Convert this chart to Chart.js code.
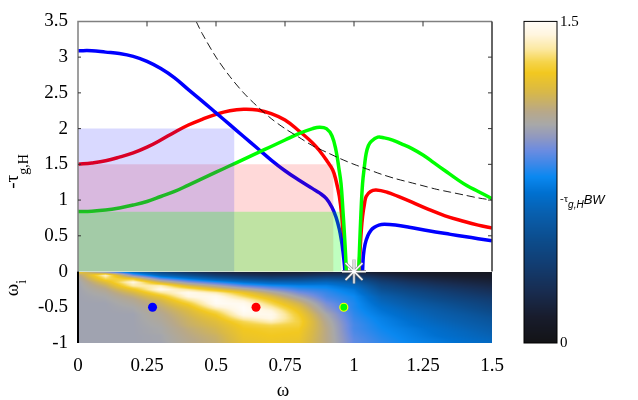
<!DOCTYPE html>
<html>
<head>
<meta charset="utf-8">
<script src="https://cdn.jsdelivr.net/npm/chart.js@4.4.1/dist/chart.umd.min.js"></script>
<style>
  html, body { margin: 0; padding: 0; background: #fff; }
</style>
</head>
<body>
<canvas id="chart" width="638" height="400"></canvas>
<script>
// upper panel: -tau_g,H against omega (null = gap at the resonance)
const blueOmega = [0, 0.05, 0.1, 0.15, 0.2, 0.25, 0.3, 0.35, 0.4, 0.45, 0.5, 0.55, 0.6, 0.65, 0.7, 0.75, 0.8, 0.85, 0.875, 0.9, 0.92, 0.935, 0.947, 0.955, 0.96, 0.965, 0.967, 1.0, 1.031, 1.034, 1.04, 1.05, 1.062, 1.074, 1.09, 1.11, 1.15, 1.2, 1.27, 1.35, 1.4, 1.45, 1.5];
const blueTau = [3.09, 3.09, 3.07, 3.05, 3.01, 2.94, 2.84, 2.71, 2.545, 2.385, 2.22, 2.055, 1.89, 1.725, 1.56, 1.41, 1.28, 1.16, 1.10, 1.02, 0.90, 0.76, 0.59, 0.42, 0.28, 0.1, 0, null, 0, 0.22, 0.38, 0.50, 0.58, 0.62, 0.65, 0.66, 0.65, 0.62, 0.57, 0.52, 0.49, 0.46, 0.43];

const redOmega = [0, 0.05, 0.1, 0.15, 0.2, 0.25, 0.3, 0.35, 0.4, 0.45, 0.5, 0.55, 0.6, 0.65, 0.7, 0.75, 0.8, 0.85, 0.875, 0.9, 0.923, 0.935, 0.947, 0.955, 0.962, 0.968, 0.97, 1.0, 1.018, 1.022, 1.026, 1.031, 1.038, 1.044, 1.06, 1.08, 1.12, 1.16, 1.21, 1.27, 1.33, 1.4, 1.45, 1.5];
const redTau = [1.50, 1.52, 1.55, 1.60, 1.66, 1.74, 1.84, 1.95, 2.05, 2.13, 2.20, 2.25, 2.27, 2.26, 2.21, 2.12, 1.97, 1.80, 1.69, 1.56, 1.42, 1.27, 1.05, 0.80, 0.45, 0.1, 0, null, 0, 0.3, 0.55, 0.77, 0.95, 1.05, 1.12, 1.14, 1.11, 1.05, 0.97, 0.87, 0.78, 0.70, 0.65, 0.61];

const greenOmega = [0, 0.05, 0.1, 0.15, 0.2, 0.25, 0.3, 0.35, 0.4, 0.45, 0.5, 0.55, 0.6, 0.65, 0.7, 0.75, 0.8, 0.85, 0.875, 0.9, 0.92, 0.935, 0.945, 0.953, 0.96, 0.965, 0.97, 0.972, 1.0, 1.017, 1.02, 1.025, 1.031, 1.038, 1.044, 1.052, 1.062, 1.086, 1.11, 1.14, 1.17, 1.21, 1.25, 1.29, 1.33, 1.37, 1.41, 1.45, 1.5];
const greenTau = [0.84, 0.845, 0.86, 0.89, 0.93, 0.98, 1.05, 1.12, 1.21, 1.30, 1.39, 1.48, 1.57, 1.66, 1.75, 1.84, 1.93, 2.0, 2.02, 2.0, 1.9, 1.69, 1.45, 1.23, 0.85, 0.54, 0.2, 0, null, 0, 0.32, 0.8, 1.23, 1.48, 1.65, 1.76, 1.82, 1.88, 1.87, 1.84, 1.79, 1.72, 1.63, 1.52, 1.41, 1.30, 1.20, 1.12, 1.02];

const dashOmega = [0.428, 0.45, 0.5, 0.55, 0.6, 0.65, 0.7, 0.75, 0.8, 0.85, 0.9, 0.95, 1.0, 1.05, 1.1, 1.15, 1.2, 1.25, 1.3, 1.35, 1.4, 1.45, 1.5];
const dashTau = [3.5, 3.33, 3.0, 2.73, 2.5, 2.31, 2.14, 2.0, 1.88, 1.76, 1.67, 1.58, 1.5, 1.43, 1.36, 1.3, 1.25, 1.2, 1.15, 1.11, 1.07, 1.03, 1.0];

// shaded boxes: [red, blue, green]
const boxRight = [0.926, 0.567, 0.955];
const boxTop = [1.5, 2.0, 0.835];

// lower panel markers
const dotOmega = [0.27, 0.645, 0.963];
const dotOmegaI = [-0.5, -0.5, -0.5];
const starOmega = [1.0];
const starOmegaI = [0];

// lower panel map: -tau_g,H*BW on a grid (columns = omega, rows = omega_i)
const heatOmega = [0, 0.1, 0.2, 0.3, 0.4, 0.5, 0.6, 0.7, 0.8, 0.9, 1.0, 1.1, 1.2, 1.3, 1.4, 1.5];
const heatOmegaI = [0, -0.05, -0.1, -0.15, -0.2, -0.25, -0.3, -0.35, -0.4, -0.45, -0.5, -0.55, -0.6, -0.65, -0.7, -0.75, -0.8, -0.85, -0.9, -0.95, -1];
const heatCols = [
  [1.30, 1.06, 1.02, 1.0, 1.0, 1.0, 1.0, 1.0, 1.0, 1.0, 1.0, 1.0, 1.0, 1.0, 1.0, 1.0, 1.0, 1.0, 1.0, 1.0, 1.0],
  [0.85, 1.42, 1.32, 1.2, 1.12, 1.07, 1.04, 1.02, 1.01, 1.0, 1.0, 1.0, 1.0, 1.0, 1.0, 1.0, 1.0, 1.0, 1.0, 1.0, 1.0],
  [0.62, 0.9, 1.25, 1.45, 1.38, 1.25, 1.16, 1.1, 1.06, 1.04, 1.02, 1.01, 1.0, 1.0, 1.0, 1.0, 1.0, 1.0, 1.0, 1.0, 1.0],
  [0.4, 0.62, 0.88, 1.15, 1.4, 1.47, 1.35, 1.24, 1.17, 1.13, 1.1, 1.08, 1.06, 1.05, 1.04, 1.03, 1.02, 1.02, 1.01, 1.01, 1.0],
  [0.25, 0.48, 0.72, 0.95, 1.18, 1.36, 1.48, 1.45, 1.36, 1.28, 1.22, 1.18, 1.16, 1.14, 1.13, 1.12, 1.1, 1.09, 1.08, 1.07, 1.07],
  [0.18, 0.35, 0.58, 0.82, 1.03, 1.22, 1.4, 1.48, 1.5, 1.49, 1.42, 1.33, 1.27, 1.23, 1.2, 1.18, 1.16, 1.15, 1.13, 1.12, 1.11],
  [0.14, 0.28, 0.48, 0.7, 0.88, 1.08, 1.25, 1.33, 1.42, 1.48, 1.5, 1.5, 1.47, 1.4, 1.32, 1.28, 1.26, 1.25, 1.24, 1.23, 1.22],
  [0.12, 0.24, 0.42, 0.63, 0.8, 0.94, 1.08, 1.18, 1.26, 1.32, 1.38, 1.44, 1.47, 1.46, 1.4, 1.32, 1.28, 1.27, 1.26, 1.25, 1.25],
  [0.12, 0.25, 0.44, 0.62, 0.76, 0.84, 0.92, 1.0, 1.08, 1.15, 1.2, 1.24, 1.27, 1.29, 1.3, 1.29, 1.27, 1.26, 1.25, 1.24, 1.23],
  [0.15, 0.3, 0.5, 0.65, 0.75, 0.8, 0.83, 0.85, 0.88, 0.92, 0.95, 0.98, 1.02, 1.04, 1.06, 1.07, 1.08, 1.08, 1.08, 1.08, 1.08],
  [0.15, 0.3, 0.45, 0.58, 0.66, 0.72, 0.75, 0.78, 0.79, 0.8, 0.8, 0.81, 0.82, 0.83, 0.84, 0.85, 0.85, 0.86, 0.87, 0.88, 0.88],
  [0.1, 0.2, 0.3, 0.38, 0.45, 0.5, 0.55, 0.6, 0.63, 0.66, 0.69, 0.71, 0.73, 0.75, 0.76, 0.77, 0.78, 0.79, 0.8, 0.81, 0.82],
  [0.08, 0.15, 0.22, 0.3, 0.36, 0.42, 0.47, 0.51, 0.55, 0.58, 0.61, 0.64, 0.66, 0.68, 0.7, 0.71, 0.73, 0.74, 0.75, 0.76, 0.77],
  [0.06, 0.12, 0.18, 0.24, 0.3, 0.35, 0.4, 0.44, 0.48, 0.52, 0.55, 0.58, 0.6, 0.62, 0.64, 0.66, 0.68, 0.69, 0.7, 0.72, 0.73],
  [0.05, 0.1, 0.15, 0.2, 0.25, 0.3, 0.34, 0.38, 0.42, 0.46, 0.49, 0.52, 0.55, 0.57, 0.59, 0.61, 0.63, 0.65, 0.66, 0.68, 0.69],
  [0.05, 0.09, 0.13, 0.17, 0.21, 0.25, 0.29, 0.33, 0.37, 0.4, 0.43, 0.46, 0.49, 0.52, 0.54, 0.56, 0.58, 0.6, 0.62, 0.64, 0.66]
];

// colour map 0 .. 1.5
const cmapStops = [0, 0.12, 0.24, 0.36, 0.48, 0.61, 0.70, 0.775, 0.84, 0.90, 0.96, 1.02, 1.08, 1.17, 1.26, 1.31, 1.37, 1.44, 1.5];
const cmapColors = ['#131316', '#181c2c', '#182c50', '#123c70', '#0c4c8c', '#0860b0', '#0070d0', '#0a88f0', '#4088e8', '#6c8ce0', '#9098c0', '#a8a8a8', '#b8a888', '#d8b848', '#f2c820', '#f5d44a', '#fce8a0', '#fff6e0', '#fffcf8'];

const SERIF = "'Liberation Serif', 'Times New Roman', serif";
const SANS = "'Liberation Sans', Arial, sans-serif";

const pts = (xs, ys) => xs.map((x, i) => ({ x: x, y: ys[i] }));
const cmapRgb = cmapColors.map(h => [1, 3, 5].map(k => parseInt(h.substr(k, 2), 16)));

function colorFor(v) {
  const n = cmapStops.length;
  if (v <= cmapStops[0]) return cmapRgb[0];
  if (v >= cmapStops[n - 1]) return cmapRgb[n - 1];
  let i = 0;
  while (v > cmapStops[i + 1]) i++;
  const t = (v - cmapStops[i]) / (cmapStops[i + 1] - cmapStops[i]);
  return cmapRgb[i].map((c, k) => c + (cmapRgb[i + 1][k] - c) * t);
}

// smooth shading between the grid values
function heatValue(w, wi) {
  const nC = heatOmega.length, nR = heatOmegaI.length;
  let fc = (w - heatOmega[0]) / (heatOmega[1] - heatOmega[0]);
  let fr = (heatOmegaI[0] - wi) / (heatOmegaI[0] - heatOmegaI[1]);
  fc = Math.max(0, Math.min(nC - 1, fc));
  fr = Math.max(0, Math.min(nR - 1, fr));
  const c0 = Math.min(Math.floor(fc), nC - 2), r0 = Math.min(Math.floor(fr), nR - 2);
  const tc = fc - c0, tr = fr - r0;
  const a = heatCols[c0][r0], b = heatCols[c0 + 1][r0];
  const c = heatCols[c0][r0 + 1], d = heatCols[c0 + 1][r0 + 1];
  return a * (1 - tc) * (1 - tr) + b * tc * (1 - tr) + c * (1 - tc) * tr + d * tc * tr;
}

function drawHeatmap(chart) {
  const xs = chart.scales.x, ys = chart.scales.y, ctx = chart.ctx;
  const left = Math.round(xs.getPixelForValue(heatOmega[0]));
  const right = Math.round(xs.getPixelForValue(heatOmega[heatOmega.length - 1]));
  const top = Math.round(ys.getPixelForValue(heatOmegaI[0]));
  const bottom = Math.round(ys.getPixelForValue(heatOmegaI[heatOmegaI.length - 1]));
  const w = right - left, h = bottom - top;
  const off = document.createElement('canvas');
  off.width = w; off.height = h;
  const octx = off.getContext('2d');
  const img = octx.createImageData(w, h);
  for (let j = 0; j < h; j++) {
    const wi = ys.getValueForPixel(top + j + 0.5);
    for (let i = 0; i < w; i++) {
      const col = colorFor(heatValue(xs.getValueForPixel(left + i + 0.5), wi));
      const p = (j * w + i) * 4;
      img.data[p] = col[0]; img.data[p + 1] = col[1]; img.data[p + 2] = col[2]; img.data[p + 3] = 255;
    }
  }
  octx.putImageData(img, 0, 0);
  ctx.drawImage(off, left, top);
}

function drawFrame(chart) {
  const xs = chart.scales.x, ys = chart.scales.y, ctx = chart.ctx, a = chart.chartArea;
  const y0 = ys.getPixelForValue(0);
  ctx.save();
  ctx.lineWidth = 1.5;
  ctx.strokeStyle = '#808080';
  ctx.beginPath();
  ctx.moveTo(a.left, y0); ctx.lineTo(a.left, a.top); ctx.lineTo(a.right, a.top);
  ctx.stroke();
  ctx.strokeStyle = '#333';
  ctx.beginPath();
  ctx.moveTo(a.right, a.top); ctx.lineTo(a.right, y0);
  ctx.stroke();
  ctx.strokeStyle = '#000';
  ctx.lineWidth = 2;
  ctx.beginPath();
  ctx.moveTo(a.left, y0); ctx.lineTo(a.left, a.bottom);
  ctx.stroke();
  // inward ticks
  ctx.lineWidth = 1;
  ctx.strokeStyle = '#333';
  ctx.beginPath();
  xs.ticks.forEach(t => {
    if (t.value <= xs.min || t.value >= xs.max) return;
    const x = xs.getPixelForValue(t.value);
    ctx.moveTo(x, a.top); ctx.lineTo(x, a.top + 5);
  });
  ys.ticks.forEach(t => {
    if (t.value <= 0 || t.value >= ys.max) return;
    const y = ys.getPixelForValue(t.value);
    ctx.moveTo(a.left, y); ctx.lineTo(a.left + 3, y);
    ctx.moveTo(a.right, y); ctx.lineTo(a.right - 4, y);
  });
  ctx.stroke();
  ctx.restore();
}

function drawParts(ctx, x, y, parts) {
  parts.forEach(p => {
    ctx.font = p.font;
    ctx.fillText(p.text, x, y + (p.dy || 0));
    x += ctx.measureText(p.text).width;
  });
}

function drawRotated(ctx, cx, cy, parts) {
  ctx.save();
  ctx.translate(cx, cy);
  ctx.rotate(-Math.PI / 2);
  let total = 0;
  parts.forEach(p => { ctx.font = p.font; total += ctx.measureText(p.text).width; });
  drawParts(ctx, -total / 2, 0, parts);
  ctx.restore();
}

function drawColorbar(chart) {
  const ctx = chart.ctx, a = chart.chartArea;
  const x0 = a.right + 32, x1 = a.right + 65;
  const top = a.top, bottom = a.bottom;
  const vmin = cmapStops[0], vmax = cmapStops[cmapStops.length - 1];
  ctx.save();
  for (let y = Math.floor(top); y < bottom; y++) {
    const v = vmax - (y + 0.5 - top) / (bottom - top) * (vmax - vmin);
    const c = colorFor(v);
    ctx.fillStyle = 'rgb(' + c.map(Math.round).join(',') + ')';
    ctx.fillRect(x0, y, x1 - x0, 1);
  }
  ctx.strokeStyle = '#000';
  ctx.lineWidth = 1;
  ctx.strokeRect(x0, top, x1 - x0, bottom - top);
  ctx.fillStyle = '#000';
  ctx.textAlign = 'left';
  ctx.textBaseline = 'middle';
  ctx.font = '15px ' + SERIF;
  ctx.fillText(String(vmax), x1 + 3, top + 1);
  ctx.fillText(String(vmin), x1 + 3, bottom);
  ctx.textBaseline = 'alphabetic';
  const mid = (top + bottom) / 2 + 20;
  drawParts(ctx, x1 + 3, mid, [
    { text: '-τ', font: '11px ' + SERIF },
    { text: 'g,H', font: 'italic 10px ' + SANS, dy: 6 },
    { text: 'BW', font: 'italic 13px ' + SANS, dy: 2 }
  ]);
  ctx.restore();
}

function drawTitles(chart) {
  const xs = chart.scales.x, ys = chart.scales.y, ctx = chart.ctx, a = chart.chartArea;
  ctx.save();
  ctx.fillStyle = '#000';
  ctx.textAlign = 'left';
  ctx.textBaseline = 'alphabetic';
  drawRotated(ctx, a.left - 60, ys.getPixelForValue(1.4), [
    { text: '-τ', font: '19px ' + SERIF },
    { text: 'g,H', font: '14px ' + SERIF, dy: 10 }
  ]);
  drawRotated(ctx, a.left - 60, ys.getPixelForValue(-0.23), [
    { text: 'ω', font: '19px ' + SERIF },
    { text: 'i', font: '14px ' + SERIF, dy: 8 }
  ]);
  ctx.textAlign = 'center';
  ctx.font = '19px ' + SERIF;
  ctx.fillText('ω', xs.getPixelForValue(0.75) - 2, a.bottom + 53);
  ctx.restore();
}

const panelPlugin = {
  id: 'panels',
  beforeDatasetsDraw(chart) { drawHeatmap(chart); },
  afterDatasetsDraw(chart) { drawFrame(chart); },
  afterDraw(chart) { drawColorbar(chart); drawTitles(chart); }
};

const curve = (label, xs, ys, color, order) => ({
  label: label, data: pts(xs, ys), borderColor: color, borderWidth: 3.5,
  pointRadius: 0, tension: 0.4, spanGaps: false, fill: false, order: order
});
const box = (i, color, order) => ({
  data: pts([0, boxRight[i]], [boxTop[i], boxTop[i]]), borderWidth: 0, pointRadius: 0,
  backgroundColor: color, fill: { value: 0 }, order: order
});

new Chart(document.getElementById('chart').getContext('2d'), {
  type: 'line',
  data: {
    datasets: [
      curve('red', redOmega, redTau, '#ff0000', 8),
      curve('blue', blueOmega, blueTau, '#0000ff', 7),
      curve('green', greenOmega, greenTau, '#00ff00', 6),
      {
        data: pts(dashOmega, dashTau), borderColor: '#000', borderWidth: 0.9, borderDash: [8, 4],
        pointRadius: 0, tension: 0.3, fill: false, order: 5
      },
      box(0, 'rgba(255,0,0,0.15)', 4),
      box(1, 'rgba(0,0,255,0.15)', 3),
      box(2, 'rgba(0,255,0,0.25)', 2),
      {
        data: pts(dotOmega, dotOmegaI), showLine: false, pointStyle: 'circle',
        pointRadius: [4.5, 4.5, 4], pointBorderWidth: [0, 0, 1.2],
        pointBackgroundColor: ['#0000ff', '#ff0000', '#00ff00'],
        pointBorderColor: ['#0000ff', '#ff0000', '#ffff00'], order: 1
      },
      {
        data: pts(starOmega, starOmegaI), showLine: false, pointStyle: 'star',
        pointRadius: 12, pointBorderWidth: 3, pointBorderColor: 'rgba(130,130,130,0.8)', order: 0.5
      },
      {
        data: pts(starOmega, starOmegaI), showLine: false, pointStyle: 'star',
        pointRadius: 12, pointBorderWidth: 1.3, pointBorderColor: '#ffffff', order: 0
      }
    ]
  },
  options: {
    responsive: false,
    animation: false,
    devicePixelRatio: 1,
    layout: { padding: { top: 18, right: 146, left: 0, bottom: 0 } },
    plugins: { legend: { display: false }, tooltip: { enabled: false } },
    scales: {
      x: {
        type: 'linear', min: 0, max: 1.5,
        grid: { display: false, drawTicks: false }, border: { display: false },
        ticks: { stepSize: 0.25, padding: 12, color: '#000', font: { family: SERIF, size: 19 }, callback: v => String(v) },
        afterFit: s => { s.height = 57; }
      },
      y: {
        type: 'linear', min: -1, max: 3.5,
        grid: { display: false, drawTicks: false }, border: { display: false },
        ticks: { stepSize: 0.5, padding: 10, color: '#000', font: { family: SERIF, size: 19 }, callback: v => String(v) },
        afterFit: s => { s.width = 78; }
      }
    }
  },
  plugins: [panelPlugin]
});
</script>
</body>
</html>
